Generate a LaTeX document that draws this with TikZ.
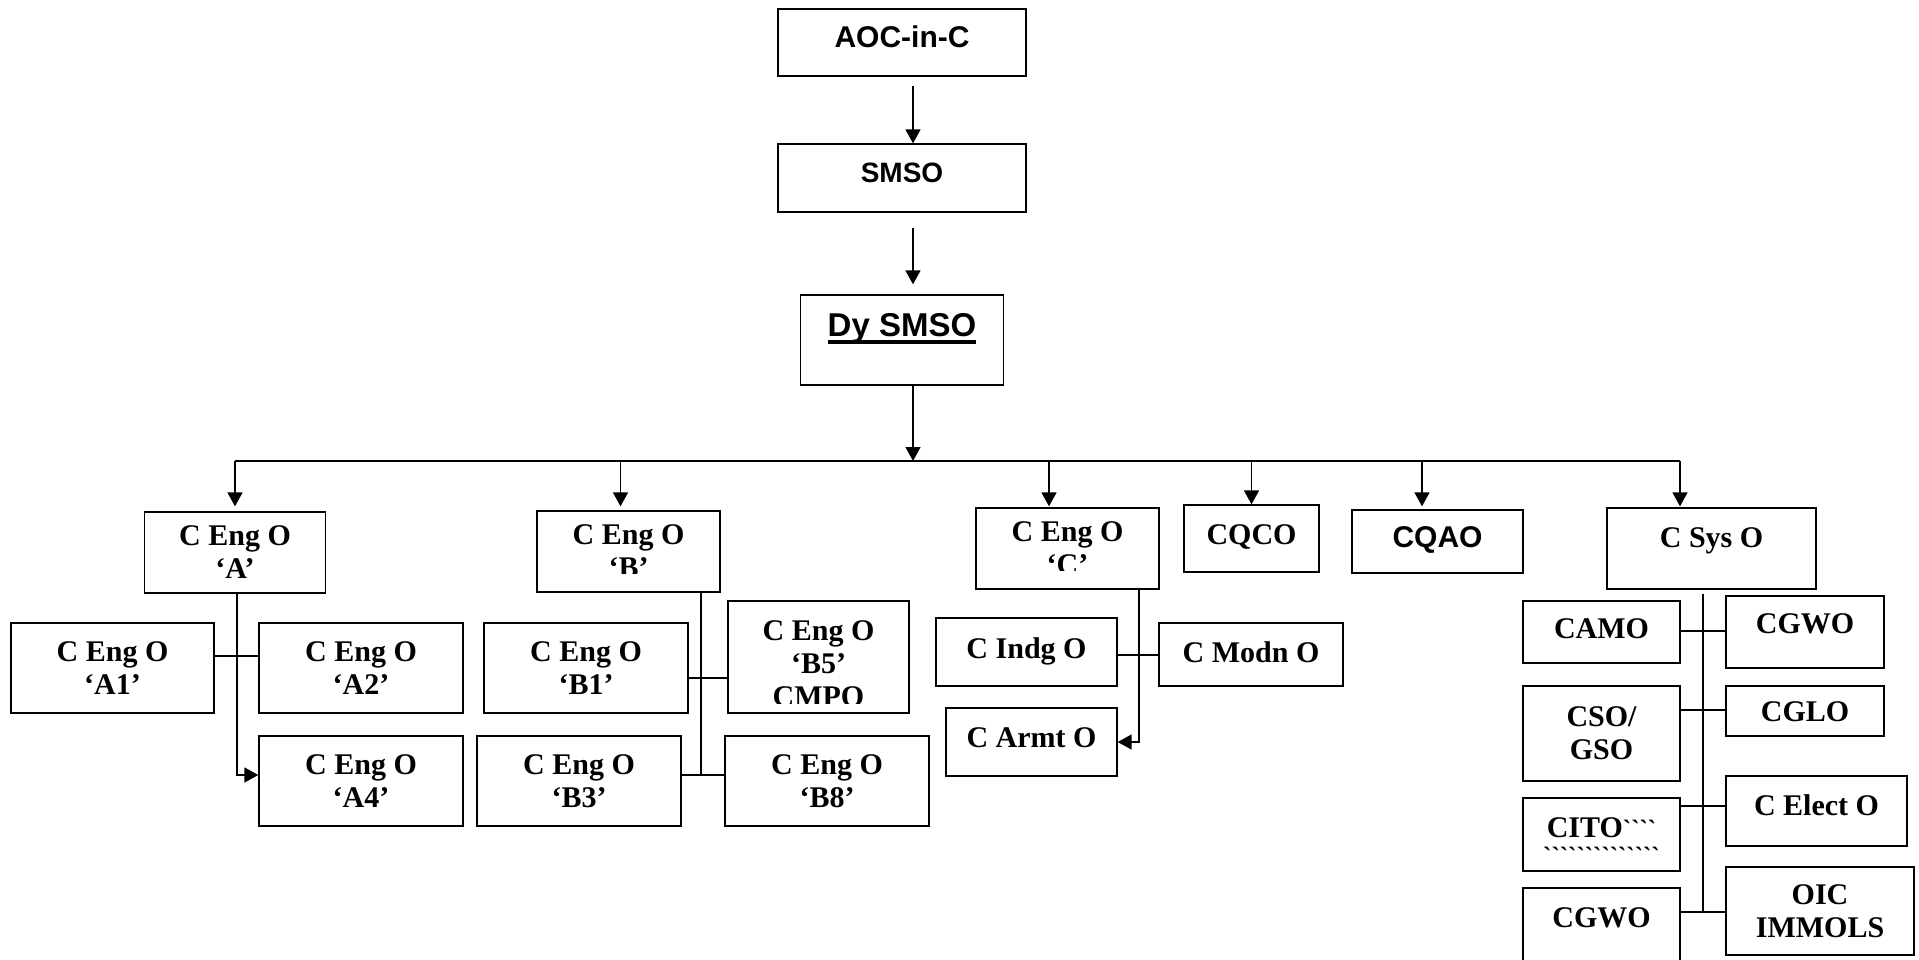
\documentclass[tikz,border=0pt]{standalone}
\usepackage{fontspec}
\setmainfont{Liberation Serif}
\setsansfont{Liberation Sans}
\newfontfamily\tickfont[Ligatures=TeXOff]{Liberation Serif}
\usepackage{tikz}
\usetikzlibrary{arrows.meta, calc}

\begin{document}
\begin{tikzpicture}[x=1pt, y=-1pt,
        box/.style={draw, line width=1.3pt, inner sep=0pt, align=center, font=\fontsize{30}{33}\selectfont\bfseries},
        sbox/.style={box, font=\fontsize{30}{33}\selectfont\sffamily\bfseries},
        lift/.style={text height=20pt, text depth=#1},
        slift/.style={text height=21.5pt, text depth=#1},
        arr/.style={-{Triangle[length=14pt, width=15pt]}, line width=1.5pt},
        conn/.style={line width=1.5pt}
    ]
    \useasboundingbox (0,0) rectangle (1919,959);
    \clip (0,0) rectangle (1919,959);
    \fill[white] (0,0) rectangle (1919,959);

    \node[sbox, slift=11pt, minimum width=248, minimum height=67] (aoc) at (902,42.5) {AOC-in-C};
    \node[sbox, font=\fontsize{28}{33}\selectfont\sffamily\bfseries, text height=20pt, text depth=12pt, minimum width=248, minimum height=68] (smso) at (902,178) {SMSO};
    \node[sbox, font=\fontsize{33}{36}\selectfont\sffamily\bfseries, text height=23.6pt, text depth=30pt, minimum width=203, minimum height=90] (dysmso) at (902,340)
        {\setbox0\hbox{Dy SMSO}\rlap{\rule[-7pt]{\wd0}{3.5pt}}\box0};

    \node[box, minimum width=181, minimum height=81] (cenga) at (235,552.5) {C Eng O\\‘A’};
    \node[box, minimum width=203, minimum height=90] (a1) at (112.5,668) {C Eng O\\‘A1’};
    \node[box, minimum width=204, minimum height=90] (a2) at (361,668) {C Eng O\\‘A2’};
    \node[box, minimum width=204, minimum height=90] (a4) at (361,781) {C Eng O\\‘A4’};

    \node[box, minimum width=183, minimum height=81] (cengb) at (628.5,551.5) {C Eng O\\‘B’};
    \node[box, minimum width=204, minimum height=90] (b1) at (586,668) {C Eng O\\‘B1’};
    \node[box, minimum width=181, minimum height=112] (b5) at (818.5,657) {\rule{0pt}{34pt}C Eng O\\‘B5’\\CMPO};
    \node[box, minimum width=204, minimum height=90] (b3) at (579,781) {C Eng O\\‘B3’};
    \node[box, minimum width=204, minimum height=90] (b8) at (827,781) {C Eng O\\‘B8’};

    \node[box, minimum width=183, minimum height=81] (cengc) at (1067.5,548.5) {C Eng O\\‘C’};
    \node[box, lift=8pt, minimum width=181, minimum height=68] (indg) at (1026.5,652) {C Indg O};
    \node[box, lift=5pt, minimum width=184, minimum height=63] (modn) at (1251,654.5) {C Modn O};
    \node[box, lift=10pt, minimum width=171, minimum height=68] (armt) at (1031.5,742) {C Armt O};

    \node[box, lift=9pt, minimum width=135, minimum height=67] (cqco) at (1251.5,538.5) {CQCO};
    \node[sbox, slift=9pt, minimum width=171, minimum height=63] (cqao) at (1437.5,541.5) {CQAO};

    \node[box, lift=23pt, minimum width=209, minimum height=81] (csys) at (1711.5,548.5) {C Sys O};
    \node[box, lift=8pt, minimum width=157, minimum height=62] (camo) at (1601.5,632) {CAMO};
    \node[box, lift=18pt, minimum width=158, minimum height=72] (cgwoa) at (1805,632) {CGWO};
    \node[box, minimum width=157, minimum height=95] (csogso) at (1601.5,733.5) {CSO/\\GSO};
    \node[box, lift=-6pt, minimum width=158, minimum height=50] (cglo) at (1805,711) {CGLO};
    \node[box, minimum width=157, minimum height=73] (cito) at (1601.5,834.5) {\rule{0pt}{32pt}CITO{\tickfont\fontsize{25}{33}\selectfont ````}\\[-6pt]{\tickfont\fontsize{25}{27}\selectfont ``````````````}};
    \node[box, lift=12pt, minimum width=181, minimum height=70] (celect) at (1816.5,811) {C Elect O};
    \node[box, lift=16pt, minimum width=157, minimum height=74] (cgwob) at (1601.5,925) {CGWO};
    \node[box, minimum width=188, minimum height=88] (oic) at (1820,911) {OIC\\IMMOLS};

    % text cut off at the foot of three boxes
    \fill[white] ($(cengb.south west)+(2,-2)$) rectangle ($(cengb.south east)+(-2,-19)$);
    \fill[white] ($(cengc.south west)+(2,-2)$) rectangle ($(cengc.south east)+(-2,-19)$);
    \fill[white] ($(b5.south west)+(2,-2)$) rectangle ($(b5.south east)+(-2,-10)$);

    \coordinate (bus) at (913,461);

    \draw[arr, shorten <=9] ([xshift=11]aoc.south) -- ([xshift=11]smso.north);
    \draw[arr, shorten <=15, shorten >=10] ([xshift=11]smso.south) -- ([xshift=11]dysmso.north);
    \draw[arr] ([xshift=11]dysmso.south) -- (bus);
    \draw[conn] (cenga.north |- bus) -- ([xshift=-31.5]csys.north |- bus);

    \draw[arr, shorten >=5] (cenga.north |- bus) -- (cenga.north);
    \draw[arr, shorten >=4] ([xshift=-8]cengb.north |- bus) -- ([xshift=-8]cengb.north);
    \draw[arr, shorten >=1] ([xshift=-18.5]cengc.north |- bus) -- ([xshift=-18.5]cengc.north);
    \draw[arr] (cqco.north |- bus) -- (cqco.north);
    \draw[arr, shorten >=3] ([xshift=-15.5]cqao.north |- bus) -- ([xshift=-15.5]cqao.north);
    \draw[arr, shorten >=1] ([xshift=-31.5]csys.north |- bus) -- ([xshift=-31.5]csys.north);

    \draw[conn] ([yshift=12]a1.east) -- ([yshift=12]a2.west);
    \draw[arr] ([xshift=2]cenga.south) |- ([yshift=6]a4.west);

    \draw[conn] ([yshift=-10]b1.east) -- ([yshift=-21]b5.west);
    \draw[conn] ([xshift=72.5]cengb.south) |- ([yshift=6]b8.west);
    \draw[conn] ([yshift=6]b3.east) -- ([yshift=6]b8.west);

    \draw[conn] ([yshift=-3]indg.east) -- ([yshift=-0.5]modn.west);
    \draw[arr] ([xshift=71.5]cengc.south) |- (armt.east);

    \draw[conn, shorten <=4] ([xshift=-8.5]csys.south) |- ([yshift=-1]oic.west);
    \draw[conn] ([yshift=1]camo.east) -- ([yshift=1]cgwoa.west);
    \draw[conn] ([yshift=23.5]csogso.east) -- ([yshift=1]cglo.west);
    \draw[conn] ([yshift=28.5]cito.east) -- ([yshift=5]celect.west);
    \draw[conn] ([yshift=13]cgwob.east) -- ([yshift=-1]oic.west);
\end{tikzpicture}
\end{document}
